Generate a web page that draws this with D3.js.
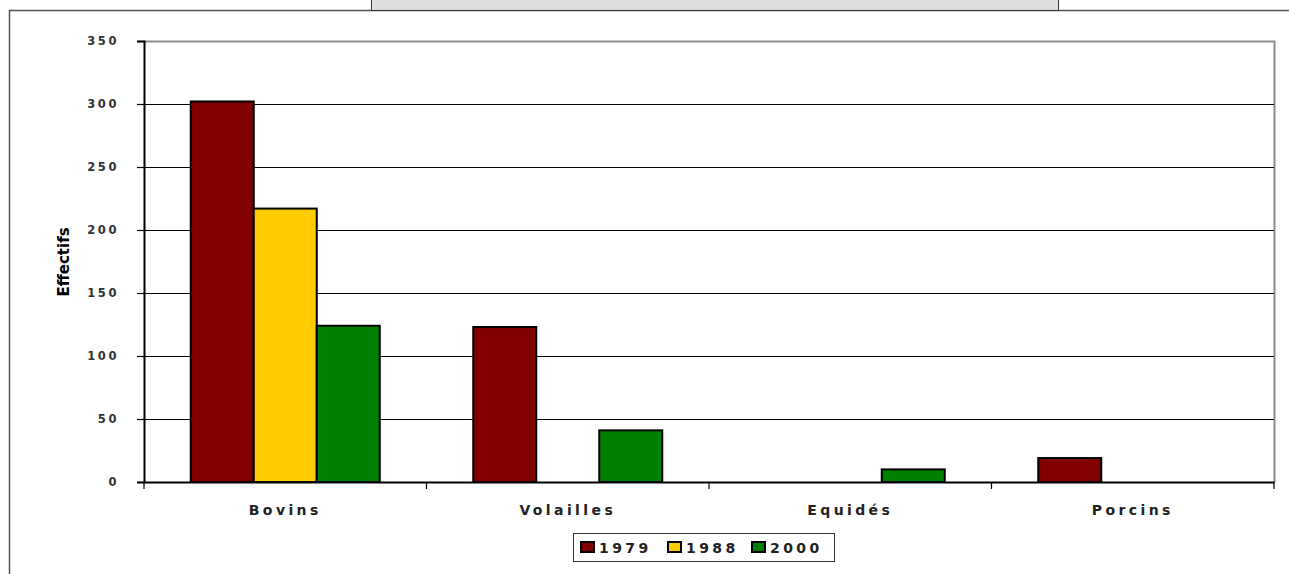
<!DOCTYPE html>
<html><head><meta charset="utf-8">
<script src="https://cdn.jsdelivr.net/npm/d3@7"></script>
<style>body{margin:0;background:#fff}svg{display:block}</style>
</head><body>
<svg id="c" width="1289" height="574"></svg>
<script>
const categories = ["Bovins", "Volailles", "Equidés", "Porcins"];
const years = ["1979", "1988", "2000"];
const v1979 = [302, 123, 0, 19];
const v1988 = [217, 0, 0, 0];
const v2000 = [124, 41, 10, 0];
const yTicks = [0, 50, 100, 150, 200, 250, 300, 350];
const colors = ["#800000", "#FFCC00", "#008000"];
const seriesVals = [v1979, v1988, v2000];

const svg = d3.select("#c");
const L = 144, R = 1274, T = 41, B = 482;
const font = "DejaVu Sans, Verdana, sans-serif";

// outer frame
svg.append("path").attr("d", "M9.5,574 V10.5 H1289").attr("fill", "none").attr("stroke", "#555").attr("stroke-width", 1.5);
svg.append("rect").attr("x", 371.5).attr("y", -2).attr("width", 687).attr("height", 12.5)
  .attr("fill", "#dedede").attr("stroke", "#333").attr("stroke-width", 1);

const x0 = d3.scaleBand().domain(categories).range([L, R]).paddingInner(0).paddingOuter(0);
const x1 = d3.scaleBand().domain(years).range([0, x0.bandwidth()]).paddingOuter(0.742).paddingInner(0);
const y = d3.scaleLinear().domain([0, 350]).range([B, T]);

// plot border
svg.append("path").attr("d", `M${L},${T+0.5} H${R+0.5} V${B}`).attr("fill", "none").attr("stroke", "#8c8c8c").attr("stroke-width", 2);
// gridlines
svg.append("g").selectAll("line").data(yTicks.filter(d => d > 0 && d < 350)).join("line")
  .attr("x1", L).attr("x2", R).attr("y1", d => Math.round(y(d)) + 0.5).attr("y2", d => Math.round(y(d)) + 0.5)
  .attr("stroke", "#000").attr("stroke-width", 1);

// bars
const data = [];
categories.forEach((c, i) => years.forEach((yr, j) => {
  if (seriesVals[j][i] > 0) data.push({ c, yr, v: seriesVals[j][i], col: colors[j] });
}));
svg.append("g").selectAll("rect").data(data).join("rect")
  .attr("x", d => x0(d.c) + x1(d.yr)).attr("width", x1.bandwidth())
  .attr("y", d => y(d.v)).attr("height", d => y(0) - y(d.v))
  .attr("fill", d => d.col).attr("stroke", "#000").attr("stroke-width", 2);

// y axis
const ya = svg.append("g").attr("transform", `translate(${L},0)`)
  .call(d3.axisLeft(y).tickValues(yTicks).tickSize(7).tickPadding(18));
ya.select(".domain").attr("stroke", "#000").attr("stroke-width", 2);
ya.selectAll(".tick line").attr("stroke", "#000").attr("stroke-width", 1.2);
ya.selectAll("text").attr("font-family", font).attr("font-size", 11.5).attr("font-weight", "bold")
  .attr("fill", "#333").style("letter-spacing", "2.6px");

// x axis
const xa = svg.append("g").attr("transform", `translate(0,${B})`)
  .call(d3.axisBottom(x0).tickSize(0).tickPadding(23));
xa.select(".domain").attr("stroke", "#000").attr("stroke-width", 2);
xa.selectAll("text").attr("font-family", font).attr("font-size", 14).attr("font-weight", "bold")
  .attr("fill", "#222").style("letter-spacing", "3.4px");
svg.append("g").selectAll("line").data(categories.map(c => x0(c)).concat([R])).join("line")
  .attr("x1", d => d).attr("x2", d => d).attr("y1", B).attr("y2", B + 7)
  .attr("stroke", "#000").attr("stroke-width", 1.2);

// y label
svg.append("text").attr("transform", "translate(69,262) rotate(-90)").attr("text-anchor", "middle")
  .attr("font-family", font).attr("font-size", 15).attr("font-weight", "bold").attr("fill", "#000")
  .text("Effectifs");

// legend
const lg = svg.append("g");
lg.append("rect").attr("x", 573.5).attr("y", 533.5).attr("width", 261).attr("height", 28)
  .attr("fill", "#fff").attr("stroke", "#333").attr("stroke-width", 1);
const lx = [581, 668, 752];
years.forEach((yr, j) => {
  lg.append("rect").attr("x", lx[j]).attr("y", 542).attr("width", 13).attr("height", 10)
    .attr("fill", colors[j]).attr("stroke", "#000").attr("stroke-width", 2);
  lg.append("text").attr("x", lx[j] + 18).attr("y", 553).attr("font-family", font).attr("font-size", 14)
    .attr("font-weight", "bold").attr("fill", "#222").style("letter-spacing", "3.4px").text(yr);
});
</script>
</body></html>
